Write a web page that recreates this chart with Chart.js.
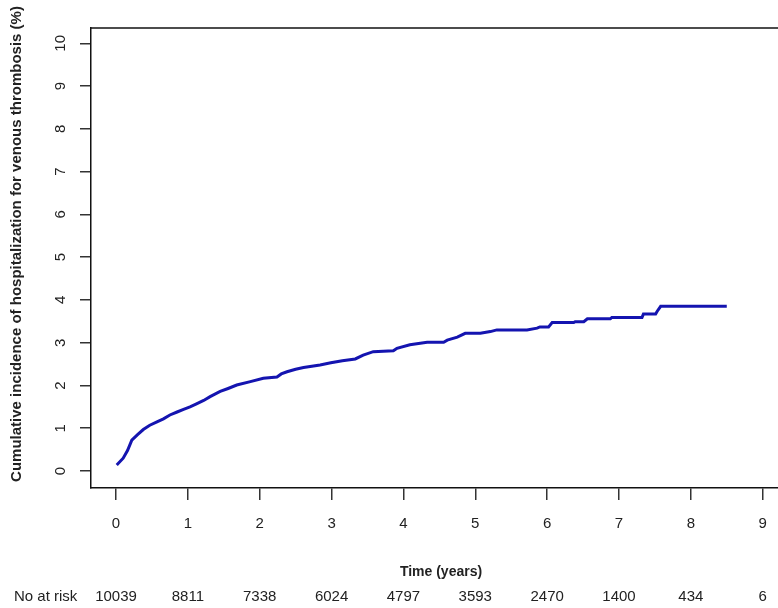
<!DOCTYPE html>
<html lang="en">
  <head>
    <meta charset="UTF-8">
    <title>Cumulative incidence of hospitalization for venous thrombosis</title>
    <script src="https://cdn.jsdelivr.net/npm/chart.js"></script>
    <style>
      html, body { margin: 0; padding: 0; background: #fff; }
      #wrap { width: 778px; height: 608px; position: relative; }
    </style>
  </head>
  <body>
    <div id="wrap"><canvas id="chart"></canvas></div>
    <script>
        // Data (years, % incidence)
        const years = [0.01, 0.10, 0.16, 0.22, 0.30, 0.38, 0.47, 0.57, 0.66, 0.75, 0.85, 0.94,
            1.03, 1.12, 1.22, 1.31, 1.45, 1.56, 1.68, 1.87, 2.05, 2.24, 2.30, 2.38, 2.50, 2.61,
            2.84, 2.99, 3.15, 3.33, 3.44, 3.58, 3.86, 3.91, 4.09, 4.33, 4.56, 4.61, 4.75, 4.86,
            5.07, 5.21, 5.30, 5.72, 5.86, 5.90, 6.02, 6.07, 6.37, 6.39, 6.51, 6.56, 6.88, 6.90,
            7.32, 7.34, 7.51, 7.53, 7.58, 8.50];
        const incidence = [0.14, 0.30, 0.48, 0.72, 0.85, 0.97, 1.07, 1.15, 1.22, 1.31, 1.38, 1.44,
            1.50, 1.57, 1.65, 1.74, 1.86, 1.93, 2.01, 2.09, 2.17, 2.20, 2.27, 2.32, 2.38, 2.42,
            2.48, 2.53, 2.58, 2.62, 2.71, 2.79, 2.81, 2.87, 2.95, 3.01, 3.01, 3.06, 3.13, 3.22,
            3.22, 3.26, 3.30, 3.30, 3.34, 3.37, 3.37, 3.47, 3.47, 3.49, 3.49, 3.56, 3.56, 3.59,
            3.59, 3.67, 3.67, 3.73, 3.85, 3.85];

        // Number at risk below the x axis
        const riskYears = [0, 1, 2, 3, 4, 5, 6, 7, 8, 9];
        const atRisk = [10039, 8811, 7338, 6024, 4797, 3593, 2470, 1400, 434, 6];

        const xTicks = [0, 1, 2, 3, 4, 5, 6, 7, 8, 9];
        const yTicks = [0, 1, 2, 3, 4, 5, 6, 7, 8, 9, 10];

        const txt = '#222';
        const fontFam = '"Liberation Sans", Arial, sans-serif';

        // R style extras: box top, tick labels, titles, at-risk row
        const extras = {
            id: 'extras',
            afterDraw(chart) {
                const ctx = chart.ctx;
                const a = chart.chartArea;
                const xs = chart.scales.x, ys = chart.scales.y;
                ctx.save();
                ctx.strokeStyle = '#111';
                ctx.lineWidth = 1.5;
                ctx.beginPath();
                ctx.moveTo(a.left, a.top);
                ctx.lineTo(a.right + 2, a.top);
                ctx.stroke();

                ctx.fillStyle = txt;
                ctx.textAlign = 'center';
                ctx.textBaseline = 'middle';
                ctx.font = '15px ' + fontFam;
                yTicks.forEach(v => {
                    ctx.save();
                    ctx.translate(61, ys.getPixelForValue(v));
                    ctx.rotate(-Math.PI / 2);
                    ctx.fillText(String(v), 0, 0);
                    ctx.restore();
                });
                xTicks.forEach(v => {
                    ctx.fillText(String(v), xs.getPixelForValue(v), 524);
                });

                ctx.font = 'bold 15px ' + fontFam;
                ctx.save();
                ctx.translate(17, 244);
                ctx.rotate(-Math.PI / 2);
                ctx.fillText('Cumulative incidence of hospitalization for venous thrombosis (%)', 0, 0);
                ctx.restore();

                ctx.font = 'bold 14px ' + fontFam;
                ctx.fillText('Time (years)', 441, 572);

                ctx.font = '15px ' + fontFam;
                ctx.textAlign = 'left';
                ctx.fillText('No at risk', 14, 597);
                ctx.textAlign = 'center';
                riskYears.forEach((t, i) => {
                    ctx.fillText(String(atRisk[i]), xs.getPixelForValue(t), 597);
                });
                ctx.restore();
            }
        };

        const chart = new Chart(document.getElementById('chart'), {
            type: 'line',
            data: {
                datasets: [{
                    data: years.map((t, i) => ({ x: t, y: incidence[i] })),
                    borderColor: '#1414b0',
                    borderWidth: 3,
                    pointRadius: 0,
                    tension: 0,
                    fill: false
                }]
            },
            options: {
                responsive: true,
                maintainAspectRatio: false,
                animation: false,
                layout: { padding: { left: 80, top: 28, right: 0, bottom: 108 } },
                plugins: { legend: { display: false }, tooltip: { enabled: false } },
                scales: {
                    x: {
                        type: 'linear',
                        min: -0.348,
                        max: 9.213,
                        afterFit(s) { s.height = 12; },
                        border: { display: true, color: '#111', width: 1.5 },
                        grid: { drawOnChartArea: false, drawTicks: true, tickLength: 12, color: '#333', lineWidth: 1.5 },
                        ticks: { stepSize: 1, includeBounds: false, display: false }
                    },
                    y: {
                        min: -0.397,
                        max: 10.358,
                        afterFit(s) { s.width = 11; },
                        border: { display: true, color: '#111', width: 1.5 },
                        grid: { drawOnChartArea: false, drawTicks: true, tickLength: 11, color: '#333', lineWidth: 1.5 },
                        ticks: { stepSize: 1, includeBounds: false, display: false }
                    }
                }
            },
            plugins: [extras]
        });
    </script>
  </body>
</html>
